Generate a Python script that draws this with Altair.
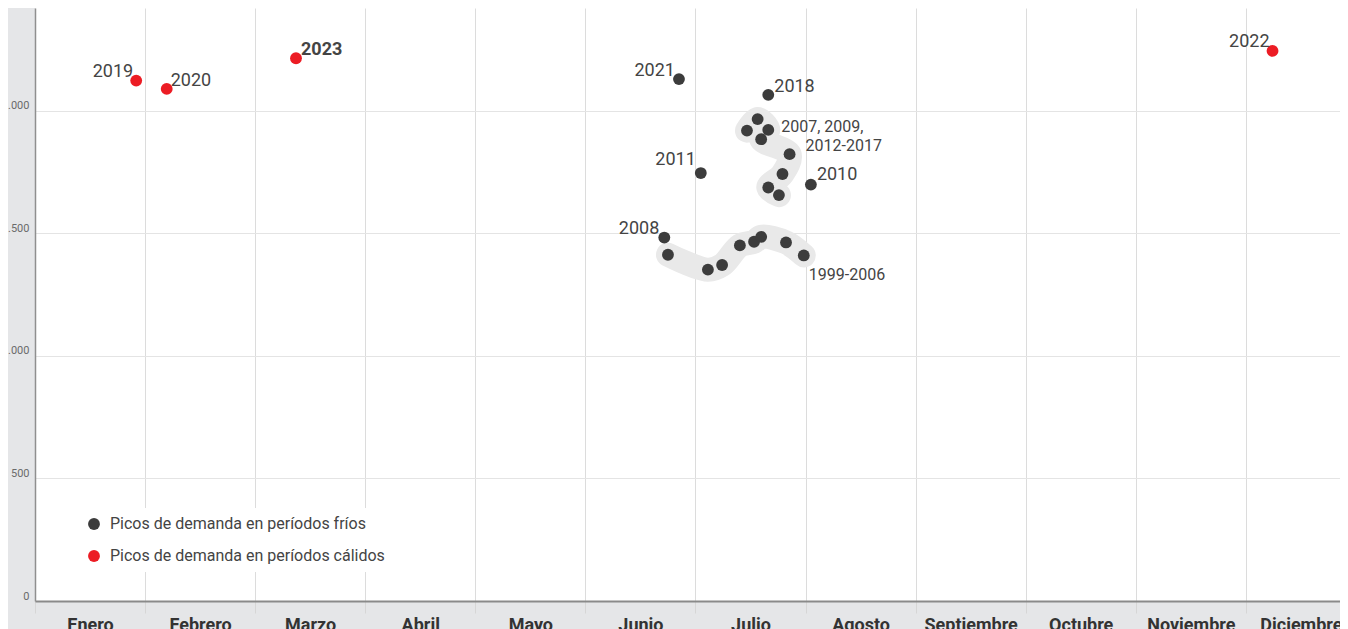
import calendar
import altair as alt
import pandas as pd

meses = ["Enero", "Febrero", "Marzo", "Abril", "Mayo", "Junio", "Julio",
         "Agosto", "Septiembre", "Octubre", "Noviembre", "Diciembre"]

TIPO_FRIO = "Picos de demanda en períodos fríos"
TIPO_CALIDO = "Picos de demanda en períodos cálidos"

# Cold-period peaks
frio_anio = ["2021", "2018", "2011", "2010", "2008",
             "2007", "2009", "2012", "2013", "2014", "2015", "2016", "2017",
             "1999", "2000", "2001", "2002", "2003", "2004", "2005", "2006"]
frio_fecha = ["06-26", "07-21", "07-02", "08-02", "06-22",
              "07-15", "07-18", "07-21", "07-19", "07-27", "07-25", "07-21", "07-24",
              "06-23", "07-04", "07-08", "07-13", "07-17", "07-19", "07-26", "07-31"]
frio_mw = [2128, 2064, 1745, 1698, 1482,
           1918, 1965, 1921, 1883, 1822, 1741, 1686, 1655,
           1412, 1351, 1370, 1450, 1465, 1485, 1462, 1409]
frio_grupo = ["", "", "", "", "",
              "A", "A", "A", "A", "A", "A", "A", "A",
              "B", "B", "B", "B", "B", "B", "B", "B"]

# Warm-period peaks
calido_anio = ["2019", "2020", "2023", "2022"]
calido_fecha = ["01-29", "02-06", "03-12", "12-08"]
calido_mw = [2122, 2088, 2213, 2243]

# Labels and the point they belong to
etiqueta_texto = ["2019", "2020", "2023", "2022", "2021", "2018", "2011", "2010",
                  "2008", "2007, 2009,", "2012-2017", "1999-2006"]
etiqueta_ancla = ["2019", "2020", "2023", "2022", "2021", "2018", "2011", "2010",
                  "2008", "2012", "2014", "2006"]

y_ticks = [0, 500, 1000, 1500, 2000]


def mes_pos(f):
    m, d = (int(v) for v in f.split("-"))
    dim = calendar.monthrange(2023, m)[1]
    return (m - 1) + (d - 0.5) / dim


df = pd.DataFrame({
    "anio": frio_anio + calido_anio,
    "fecha": frio_fecha + calido_fecha,
    "mw": frio_mw + calido_mw,
    "tipo": [TIPO_FRIO] * len(frio_anio) + [TIPO_CALIDO] * len(calido_anio),
    "grupo": frio_grupo + [""] * len(calido_anio),
})
df["pos"] = df["fecha"].map(mes_pos)

# order of the highlight band through each cluster
orden_banda = {"2007": 0, "2009": 1, "2012": 2, "2013": 3, "2014": 4,
               "2015": 5, "2016": 6, "2017": 7}
df["orden"] = [orden_banda.get(a, 0) for a in df["anio"]]
banda_df = df[df["grupo"] != ""].copy()
banda_df.loc[banda_df["grupo"] == "B", "orden"] = banda_df.loc[banda_df["grupo"] == "B", "pos"]

lab_df = pd.DataFrame({"texto": etiqueta_texto, "anio": etiqueta_ancla})
lab_df = lab_df.merge(df[["anio", "pos", "mw"]], on="anio", how="left")

# text styles: align, dx, dy, size, weight
estilos = {
    "2019": ("right", -3, -4, 18, "normal"),
    "2020": ("left", 4, -3, 18, "normal"),
    "2023": ("left", 5, -3, 18, "bold"),
    "2022": ("right", -3, -4, 18, "normal"),
    "2021": ("right", -4, -3, 18, "normal"),
    "2018": ("left", 6, -3, 18, "normal"),
    "2011": ("right", -5, -8, 18, "normal"),
    "2010": ("left", 6, -5, 18, "normal"),
    "2008": ("right", -5, -4, 18, "normal"),
    "2007, 2009,": ("left", 13, 2, 16, "normal"),
    "2012-2017": ("left", 16, -3, 16, "normal"),
    "1999-2006": ("left", 5, 25, 16, "normal"),
}

FONT = "Roboto"
meses_expr = "[" + ",".join("'%s'" % m for m in meses) + "][datum.value]"

x_enc = alt.X(
    "pos:Q",
    scale=alt.Scale(domain=[0, 11.855], nice=False, zero=False),
    axis=alt.Axis(
        values=list(range(12)), labelExpr=meses_expr, labelOffset=55,
        labelFlush=False, labelOverlap=False, tickSize=12, tickColor="#d6d6d6",
        grid=True, gridColor="#dcdcdc", domainColor="#8a8a8a", domainWidth=2,
        labelFont=FONT, labelFontWeight="bold", labelFontSize=18,
        labelColor="#333333", labelPadding=3, title=None,
    ),
)
y_enc = alt.Y(
    "mw:Q",
    scale=alt.Scale(domain=[0, 2418], nice=False),
    axis=alt.Axis(
        values=y_ticks, labelExpr="replace(format(datum.value, ','), ',', '.')",
        grid=True, gridColor="#e4e4e4", domainColor="#8f8f8f", domainWidth=1.5,
        ticks=False, labelPadding=6, labelFontSize=11, labelFont=FONT,
        labelColor="#6a6a6a", labelBaseline="bottom", title=None,
    ),
)

banda = alt.Chart(banda_df).mark_line(
    color="#e9e9e9", strokeWidth=24, strokeCap="round", strokeJoin="round",
    interpolate="catmull-rom",
).encode(x=x_enc, y=y_enc, detail="grupo:N", order="orden:Q")

puntos = alt.Chart(df).mark_circle(size=140, opacity=1).encode(
    x=x_enc, y=y_enc,
    color=alt.Color(
        "tipo:N",
        scale=alt.Scale(domain=[TIPO_FRIO, TIPO_CALIDO], range=["#3c3c3c", "#ec1c24"]),
        legend=alt.Legend(
            orient="none", legendX=43, legendY=500, title=None,
            symbolType="circle", symbolSize=140, symbolStrokeWidth=0,
            labelFont=FONT, labelFontSize=16, labelColor="#444444", labelLimit=0,
            rowPadding=16, labelOffset=8, padding=8, fillColor="white",
        ),
    ),
)

textos = []
for t in etiqueta_texto:
    al, dx, dy, sz, wt = estilos[t]
    textos.append(
        alt.Chart(lab_df[lab_df["texto"] == t]).mark_text(
            align=al, baseline="alphabetic", dx=dx, dy=dy, fontSize=sz,
            fontWeight=wt, font=FONT, color="#444444",
        ).encode(x=x_enc, y=y_enc, text="texto:N")
    )

chart = alt.layer(banda, puntos, *textos).properties(
    width=1305, height=593,
    autosize=alt.AutoSizeParams(type="none"),
    padding={"left": 27, "top": 0, "right": 0, "bottom": 28},
    background="#e5e6e8",
).configure_view(fill="white", stroke=None)

chart.save("out.html", embed_options={"renderer": "svg", "actions": False})
